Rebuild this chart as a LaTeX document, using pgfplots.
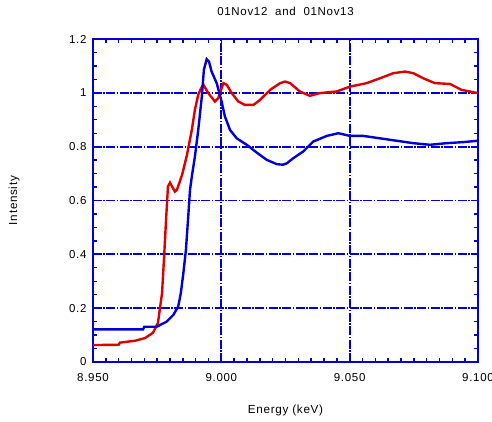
\documentclass[border=0pt]{standalone}
\usepackage{pgfplots}
\pgfplotsset{compat=1.18}
\usepackage{fontspec}
\setmainfont{Liberation Sans}[LetterSpace=6]
\definecolor{cblue}{RGB}{0,0,215}
\definecolor{cred}{RGB}{220,0,0}
\begin{document}
\begin{tikzpicture}
\clip (-93pt,-59pt) rectangle (399pt,362pt);
\begin{axis}[
  scale only axis, width=385pt, height=323pt,
  xmin=8.95, xmax=9.10, ymin=0, ymax=1.2,
  xtick={8.95,9.00,9.05,9.10},
  xticklabels={8.950,9.000,9.050,9.100},
  ytick={0,0.2,0.4,0.6,0.8,1,1.2},
  yticklabels={0,0.2,0.4,0.6,0.8,1,1.2},
  minor x tick num=9, minor y tick num=3,
  tick align=inside, major tick length=4pt, minor tick length=4pt,
  axis line style={cblue, line width=2pt},
  tick style={cblue, line width=1.4pt},
  minor tick style={cblue, line width=1.4pt},
  major tick style={cblue, line width=1.4pt},
  grid=major,
  x grid style={cblue, line width=1.8pt, dash pattern=on 9pt off 1.5pt on 1.5pt off 1.5pt},
  y grid style={cblue, line width=1.8pt, dash pattern=on 9pt off 1.5pt on 1.5pt off 1.5pt},
  tick label style={font=\fontsize{11.5}{13}\selectfont},
  xticklabel style={yshift=-8pt},
  yticklabel style={xshift=-3pt},
  xlabel={Energy (keV)}, ylabel={Intensity},
  title={01Nov12\ \ and\ \ 01Nov13},
  title style={font=\fontsize{11.5}{13}\selectfont, at={(axis description cs:0.5,1.068)}, anchor=center},
  every axis x label/.style={font=\fontsize{11.7}{14}\selectfont, at={(axis description cs:0.5,-0.149)}, anchor=center},
  every axis y label/.style={font=\fontsize{11.7}{14}\selectfont, at={(axis description cs:-0.205,0.5)}, rotate=90, anchor=center},
]
\addplot[cred, line width=2.4pt] coordinates {
(8.9500,0.063) (8.9600,0.064) (8.9605,0.072) (8.9664,0.079) (8.9703,0.089)
(8.9734,0.109) (8.9753,0.145) (8.9769,0.256) (8.9777,0.39) (8.9784,0.517)
(8.9792,0.652) (8.9800,0.666) (8.9819,0.633) (8.9827,0.640) (8.9847,0.695)
(8.9865,0.765) (8.9885,0.862) (8.9897,0.937) (8.9910,0.993) (8.9921,1.017)
(8.9930,1.030) (8.9949,0.999) (8.9975,0.968) (8.9988,0.980) (9.0008,1.036)
(9.0021,1.030) (9.0040,1.000) (9.0066,0.968) (9.0092,0.955) (9.0125,0.955)
(9.0151,0.974) (9.0190,1.011) (9.0229,1.036) (9.0248,1.042) (9.0268,1.036)
(9.0306,1.005) (9.0345,0.989) (9.0384,0.999) (9.0449,1.005) (9.0501,1.023)
(9.0566,1.036) (9.0618,1.054) (9.0670,1.073) (9.0716,1.079) (9.0748,1.073)
(9.0787,1.054) (9.0832,1.036) (9.0891,1.033) (9.0936,1.011) (9.0988,1.001)
(9.1000,1.000)
};
\addplot[cblue, line width=2.4pt] coordinates {
(8.9500,0.121) (8.9695,0.121) (8.9700,0.131) (8.9748,0.131) (8.9787,0.150)
(8.9813,0.175) (8.9832,0.206) (8.9842,0.255) (8.9852,0.330) (8.9862,0.416)
(8.9871,0.540) (8.9878,0.640) (8.9885,0.689) (8.9891,0.726) (8.9897,0.763)
(8.9910,0.862) (8.9924,0.986) (8.9932,1.086) (8.9943,1.125) (8.9952,1.116)
(8.9962,1.079) (8.9982,1.036) (9.0001,0.968) (9.0014,0.912) (9.0034,0.862)
(9.0060,0.831) (9.0099,0.807) (9.0138,0.778) (9.0177,0.751) (9.0216,0.735)
(9.0240,0.733) (9.0255,0.738) (9.0280,0.757) (9.0319,0.782) (9.0358,0.819)
(9.0411,0.840) (9.0456,0.850) (9.0501,0.840) (9.0553,0.840) (9.0618,0.831)
(9.0683,0.822) (9.0748,0.813) (9.0813,0.807) (9.0878,0.813) (9.0943,0.817)
(9.1000,0.822)
};
\end{axis}
\end{tikzpicture}
\end{document}
